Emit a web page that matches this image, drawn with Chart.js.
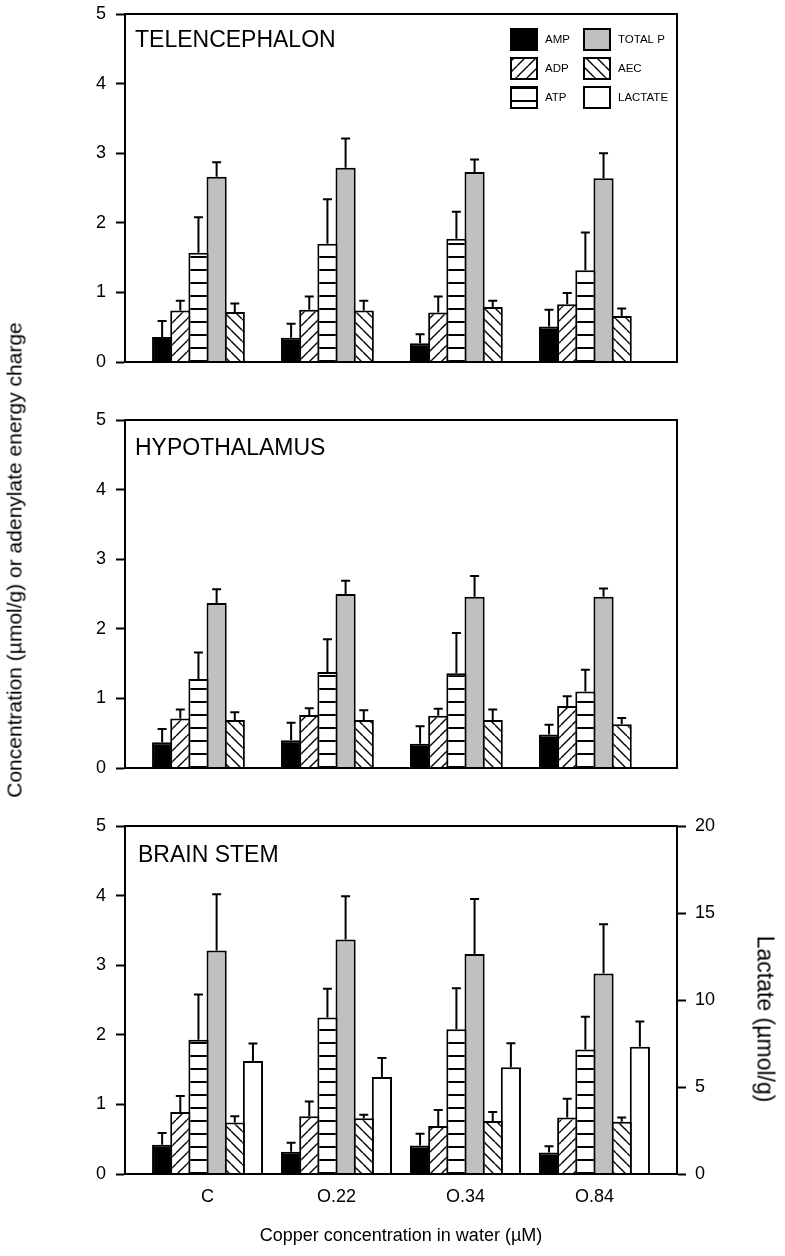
<!DOCTYPE html>
<html>
<head>
<meta charset="utf-8">
<script src="https://cdn.jsdelivr.net/npm/chart.js@4.4.1/dist/chart.umd.min.js"></script>
<style>
  body { margin: 0; background: #fff; }
  #page { position: relative; width: 785px; height: 1256px; overflow: hidden; font-family: 'Liberation Sans', Arial, sans-serif; color: #000; }
  #page canvas { position: absolute; left: 0; }
  .vtitle { position: absolute; white-space: nowrap; line-height: 1; }
  #concTitle { left: 14px; top: 560px; font-size: 21px; transform: translate(-50%, -50%) rotate(-90deg); }
  #lactTitle { left: 765px; top: 1019px; font-size: 23px; transform: translate(-50%, -50%) rotate(90deg); }
</style>
</head>
<body>
<div id="page">
  <canvas id="telChart" width="785" height="380" style="top:0px"></canvas>
  <canvas id="hypChart" width="785" height="380" style="top:406px"></canvas>
  <canvas id="bsChart" width="785" height="444" style="top:812px"></canvas>
  <div class="vtitle" id="concTitle">Concentration (µmol/g) or adenylate energy charge</div>
  <div class="vtitle" id="lactTitle">Lactate (µmol/g)</div>
</div>

<script>
// ---- data ------------------------------------------------------------
const groupLabels = ['C', 'O.22', 'O.34', 'O.84'];
const groupPositions = [0, 1, 2, 3];
const seriesNames = ['AMP', 'ADP', 'ATP', 'TOTAL P', 'AEC', 'LACTATE'];
const concTicks = [0, 1, 2, 3, 4, 5];
const lactateTicks = [0, 5, 10, 15, 20];

// telencephalon (means, SE)
const telAMP = [0.36, 0.35, 0.27, 0.51];
const telAMPse = [0.23, 0.20, 0.13, 0.24];
const telADP = [0.74, 0.75, 0.71, 0.83];
const telADPse = [0.14, 0.19, 0.23, 0.16];
const telATP = [1.57, 1.70, 1.77, 1.32];
const telATPse = [0.51, 0.64, 0.39, 0.54];
const telTotal = [2.66, 2.79, 2.73, 2.64];
const telTotalSe = [0.21, 0.42, 0.18, 0.36];
const telAEC = [0.72, 0.74, 0.79, 0.66];
const telAECse = [0.12, 0.14, 0.09, 0.11];

// hypothalamus
const hypAMP = [0.37, 0.40, 0.35, 0.48];
const hypAMPse = [0.19, 0.25, 0.25, 0.14];
const hypADP = [0.71, 0.76, 0.75, 0.89];
const hypADPse = [0.13, 0.10, 0.10, 0.14];
const hypATP = [1.28, 1.38, 1.36, 1.10];
const hypATPse = [0.38, 0.47, 0.58, 0.31];
const hypTotal = [2.37, 2.50, 2.46, 2.46];
const hypTotalSe = [0.20, 0.19, 0.30, 0.12];
const hypAEC = [0.69, 0.69, 0.69, 0.63];
const hypAECse = [0.11, 0.14, 0.15, 0.09];

// brain stem (lactate on the right-hand axis)
const bsAMP = [0.42, 0.32, 0.41, 0.31];
const bsAMPse = [0.17, 0.13, 0.17, 0.09];
const bsADP = [0.89, 0.83, 0.69, 0.81];
const bsADPse = [0.23, 0.21, 0.23, 0.27];
const bsATP = [1.93, 2.25, 2.08, 1.79];
const bsATPse = [0.65, 0.41, 0.59, 0.47];
const bsTotal = [3.21, 3.37, 3.16, 2.88];
const bsTotalSe = [0.81, 0.62, 0.79, 0.71];
const bsAEC = [0.74, 0.80, 0.76, 0.75];
const bsAECse = [0.09, 0.05, 0.13, 0.06];
const bsLactate = [6.49, 5.57, 6.13, 7.32];
const bsLactateSe = [1.01, 1.09, 1.38, 1.45];

// ---- fills -----------------------------------------------------------
const FONT = "'Liberation Sans', Arial, Helvetica, sans-serif";
Chart.defaults.font.family = FONT;
Chart.defaults.font.size = 18;
Chart.defaults.color = '#000';

function tile(w, h, draw) {
  const c = document.createElement('canvas');
  c.width = w; c.height = h;
  const g = c.getContext('2d');
  g.fillStyle = '#fff';
  g.fillRect(0, 0, w, h);
  g.strokeStyle = '#000';
  draw(g, w, h);
  return g.createPattern(c, 'repeat');
}

function diagonal(forward) {
  return tile(11, 11, (g, w, h) => {
    g.lineWidth = 1.4;
    g.beginPath();
    for (let k = -1; k <= 1; k++) {
      if (forward) { g.moveTo(k * w, h); g.lineTo(k * w + w, 0); }
      else { g.moveTo(k * w, 0); g.lineTo(k * w + w, h); }
    }
    g.stroke();
  });
}

const hLines = tile(8, 13, (g, w) => {
  g.lineWidth = 2;
  g.beginPath();
  g.moveTo(0, 10); g.lineTo(w, 10);
  g.stroke();
});

const seriesFills = ['#000000', diagonal(true), hLines, '#c0c0c0', diagonal(false), '#ffffff'];

// ---- plugins ---------------------------------------------------------
const errorBars = {
  id: 'errorBars',
  afterDatasetsDraw(chart) {
    const ctx = chart.ctx;
    ctx.save();
    ctx.strokeStyle = '#000';
    ctx.lineWidth = 2;
    chart.data.datasets.forEach((ds, di) => {
      if (!ds.errors) return;
      const meta = chart.getDatasetMeta(di);
      const yScale = chart.scales[meta.yAxisID];
      meta.data.forEach((bar, i) => {
        const top = yScale.getPixelForValue(ds.data[i].y + ds.errors[i]);
        ctx.beginPath();
        ctx.moveTo(bar.x, bar.y);
        ctx.lineTo(bar.x, top);
        ctx.moveTo(bar.x - 4.5, top);
        ctx.lineTo(bar.x + 4.5, top);
        ctx.stroke();
      });
    });
    ctx.restore();
  }
};

// closes the plot box on top and right
const frame = {
  id: 'frame',
  afterDraw(chart) {
    const { ctx, chartArea: a } = chart;
    ctx.save();
    ctx.strokeStyle = '#000';
    ctx.lineWidth = 2;
    ctx.strokeRect(a.left, a.top, a.right - a.left, a.bottom - a.top);
    ctx.restore();
  }
};

const panelName = {
  id: 'panelName',
  afterDraw(chart, args, opts) {
    if (!opts.text) return;
    const { ctx, chartArea: a } = chart;
    ctx.save();
    ctx.font = '23px ' + FONT;
    ctx.fillStyle = '#000';
    ctx.textBaseline = 'alphabetic';
    ctx.fillText(opts.text, a.left + opts.dx, a.top + opts.dy);
    ctx.restore();
  }
};

// two-column key of fill swatches, drawn inside the plot box
const swatchKey = {
  id: 'swatchKey',
  afterDraw(chart, args, opts) {
    if (!opts.show) return;
    const { ctx, chartArea: a } = chart;
    ctx.save();
    ctx.font = '11.5px ' + FONT;
    ctx.textBaseline = 'middle';
    chart.data.datasets.forEach((ds, i) => {
      const col = Math.floor(i / 3), row = i % 3;
      const x = a.right - 167 + col * 73;
      const y = a.top + 14 + row * 29;
      ctx.fillStyle = ds.backgroundColor;
      ctx.fillRect(x, y, 28, 23);
      ctx.lineWidth = 2;
      ctx.strokeStyle = '#000';
      ctx.strokeRect(x + 1, y + 1, 26, 21);
      ctx.fillStyle = '#000';
      ctx.fillText(ds.label, x + 35, y + 12);
    });
    ctx.restore();
  }
};

// ---- chart builder ---------------------------------------------------
function barSet(i, values, errors, axis) {
  return {
    label: seriesNames[i],
    data: values.map((v, k) => ({ x: groupPositions[k], y: v })),
    errors: errors,
    backgroundColor: seriesFills[i],
    borderColor: '#000',
    borderWidth: 2,
    yAxisID: axis || 'y'
  };
}

// fixed axis box size, and no extra room reserved for edge labels
function fixSize(prop, size) {
  return s => {
    s[prop] = size;
    s.paddingTop = s.paddingBottom = s.paddingLeft = s.paddingRight = 0;
  };
}

function makePanel(id, name, nameDy, series, withLactate) {
  const datasets = series.map((s, i) => barSet(i, s[0], s[1]));
  if (withLactate) {
    datasets.push(barSet(5, bsLactate, bsLactateSe, 'y2'));
  } else {
    // empty slot keeps six bars per group
    datasets.push({ label: seriesNames[5], data: [], backgroundColor: seriesFills[5] });
  }

  const scales = {
    x: {
      type: 'linear',
      min: -0.64,
      max: 3.64,
      offset: false,
      afterBuildTicks: s => { s.ticks = groupPositions.map(v => ({ value: v })); },
      afterFit: fixSize('height', withLactate ? 82 : 18),
      grid: { display: false, drawTicks: false },
      border: { color: '#000', width: 2 },
      ticks: {
        display: withLactate,
        padding: 12,
        autoSkip: false,
        maxRotation: 0,
        callback: (v, i) => groupLabels[i]
      },
      title: {
        display: withLactate,
        text: 'Copper concentration in water (µM)',
        font: { size: 18 },
        padding: { top: 0, bottom: 9 }
      }
    },
    y: {
      min: 0,
      max: 5,
      afterBuildTicks: s => { s.ticks = concTicks.map(v => ({ value: v })); },
      afterFit: fixSize('width', 125),
      grid: { drawOnChartArea: false, tickLength: 9, tickWidth: 2, color: '#000' },
      border: { color: '#000', width: 2 },
      ticks: { padding: 10 }
    }
  };
  if (withLactate) {
    scales.y2 = {
      position: 'right',
      min: 0,
      max: 20,
      afterBuildTicks: s => { s.ticks = lactateTicks.map(v => ({ value: v })); },
      afterFit: fixSize('width', 108),
      grid: { drawOnChartArea: false, tickLength: 9, tickWidth: 2, color: '#000' },
      border: { color: '#000', width: 2 },
      ticks: { padding: 9 }
    };
  }

  return new Chart(document.getElementById(id), {
    type: 'bar',
    data: { datasets },
    options: {
      responsive: false,
      devicePixelRatio: 1,
      animation: false,
      events: [],
      categoryPercentage: 0.845,
      barPercentage: 1.11,
      layout: { padding: { top: 14, right: withLactate ? 0 : 108, left: 0, bottom: 0 } },
      scales,
      plugins: {
        legend: { display: false },
        tooltip: { enabled: false },
        panelName: { text: name, dx: withLactate ? 13 : 10, dy: nameDy },
        swatchKey: { show: id === 'telChart' }
      }
    },
    plugins: [errorBars, frame, panelName, swatchKey]
  });
}

makePanel('telChart', 'TELENCEPHALON', 33, [
  [telAMP, telAMPse], [telADP, telADPse], [telATP, telATPse], [telTotal, telTotalSe], [telAEC, telAECse]
], false);

makePanel('hypChart', 'HYPOTHALAMUS', 35, [
  [hypAMP, hypAMPse], [hypADP, hypADPse], [hypATP, hypATPse], [hypTotal, hypTotalSe], [hypAEC, hypAECse]
], false);

makePanel('bsChart', 'BRAIN STEM', 36, [
  [bsAMP, bsAMPse], [bsADP, bsADPse], [bsATP, bsATPse], [bsTotal, bsTotalSe], [bsAEC, bsAECse]
], true);
</script>
</body>
</html>
